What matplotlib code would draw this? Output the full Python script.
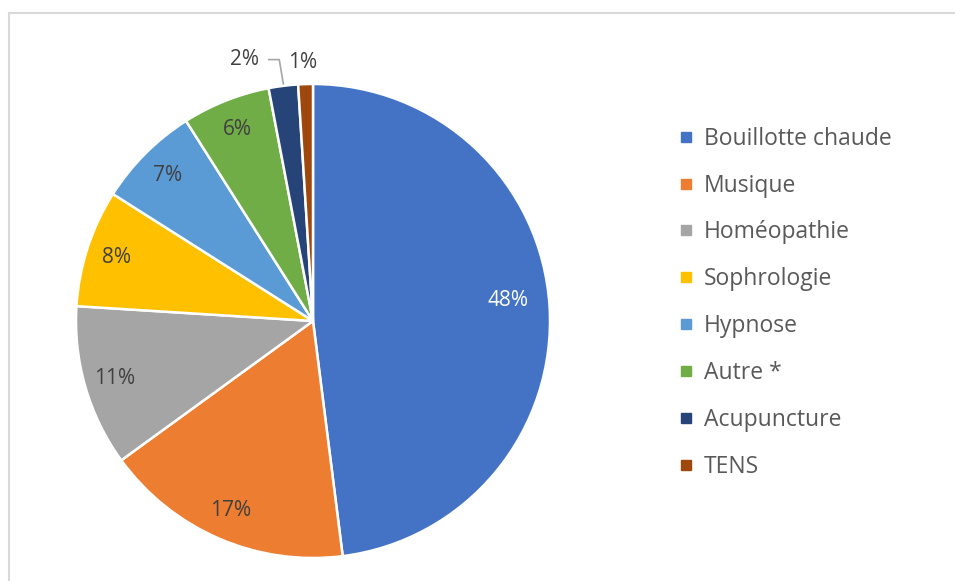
import numpy as np
import matplotlib.pyplot as plt
from matplotlib.lines import Line2D

plt.rcParams['font.family'] = ['Open Sans', 'DejaVu Sans']

categories = ['Bouillotte chaude', 'Musique', 'Homéopathie', 'Sophrologie',
              'Hypnose', 'Autre *', 'Acupuncture', 'TENS']
values = [48, 17, 11, 8, 7, 6, 2, 1]
colors = ['#4472C4', '#ED7D31', '#A5A5A5', '#FFC000',
          '#5B9BD5', '#70AD47', '#264478', '#9E480E']

W, H = 955, 581
fig = plt.figure(figsize=(W / 100, H / 100), dpi=100)

# cadre gris clair (haut et gauche visibles)
fig.add_artist(Line2D([9 / W, 1], [1 - 13 / H, 1 - 13 / H], color='#D9D9D9', lw=1.5))
fig.add_artist(Line2D([9 / W, 9 / W], [0, 1 - 13 / H], color='#D9D9D9', lw=1.5))

ax = fig.add_axes([0, 0, 1, 1])
ax.axis('off')

cx, cy, r = 313, H - 321, 237
wedges, texts, autotexts = ax.pie(
    values, colors=colors, startangle=90, counterclock=False,
    center=(cx, cy), radius=r, autopct='%1.0f%%', pctdistance=0.87,
    wedgeprops=dict(edgecolor='white', linewidth=1.8),
    textprops=dict(fontsize=15, color='#404040'))
ax.set_xlim(0, W)
ax.set_ylim(0, H)
ax.set_aspect('equal')

autotexts[0].set_color('white')
x, y = autotexts[0].get_position()
autotexts[0].set_position((cx + (x - cx) * 0.95, y + 8))

# petites parts : étiquettes à l'extérieur
for i, rad, shift in [(6, 1.14, 0.13), (7, 1.09, 0.007)]:
    w = wedges[i]
    ang = np.deg2rad((w.theta1 + w.theta2) / 2)
    lx = cx + rad * r * np.cos(ang + shift)
    ly = cy + rad * r * np.sin(ang + shift)
    autotexts[i].set_position((lx, ly))
    if i == 6:
        ex = cx + r * np.cos(ang)
        ey = cy + r * np.sin(ang)
        ax.plot([lx + 24, ex - 4, ex], [ly, ly, ey + 2], color='#A6A6A6', lw=1.2)

handles = [Line2D([], [], marker='s', ls='', color=c, markersize=6.5) for c in colors]
leg = fig.legend(handles, categories, loc='upper left', bbox_to_anchor=(656 / W, 1 - 106 / H),
                 frameon=False, fontsize=16.5, labelspacing=1.0, handlelength=0.8,
                 handletextpad=0.4, labelcolor='#595959')

fig.savefig('out.png', dpi=100)
